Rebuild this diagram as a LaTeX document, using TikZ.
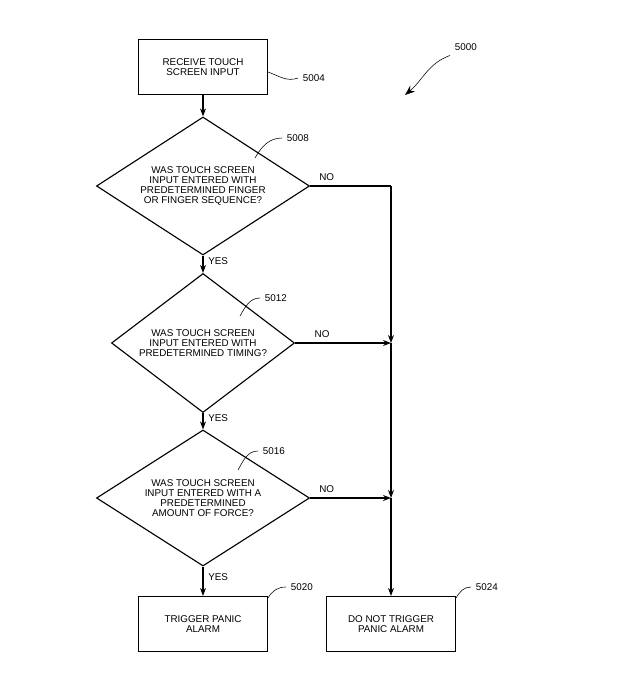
\documentclass[tikz,border=0pt]{standalone}
\usepackage{fontspec}
\setmainfont{Liberation Sans}
\usetikzlibrary{arrows.meta, shapes.geometric}

\begin{document}
\begin{tikzpicture}[x=0.025cm, y=-0.025cm,
    every node/.style={font=\fontsize{7}{7}\selectfont, align=center},
    action/.style={draw, thick, minimum width=3.225cm, minimum height=1.375cm, inner sep=1pt},
    test/.style={draw, thick, diamond, aspect=1.55, inner sep=0pt},
    flow/.style={thick, -{Stealth[length=2mm]}},
    tag/.style={anchor=west, font=\fontsize{7}{7}\selectfont},
    squig/.style={thin, out=-20, in=200}]

    \useasboundingbox (0,0) rectangle (636,677);

    \node[action] (input) at (203,67) {RECEIVE TOUCH\\SCREEN INPUT};
    \node[test, minimum width=5.325cm, minimum height=3.45cm] (finger) at (203,186) {WAS TOUCH SCREEN\\INPUT ENTERED WITH\\PREDETERMINED FINGER\\OR FINGER SEQUENCE?};
    \node[test, aspect=1.32, minimum width=4.575cm, minimum height=3.475cm] (timing) at (203,343) {WAS TOUCH SCREEN\\INPUT ENTERED WITH\\PREDETERMINED TIMING?};
    \node[test, minimum width=5.325cm, minimum height=3.4cm] (force) at (203,498) {WAS TOUCH SCREEN\\INPUT ENTERED WITH A\\PREDETERMINED\\AMOUNT OF FORCE?};
    \node[action] (alarm) at (203,624) {TRIGGER PANIC\\ALARM};
    \node[action] (noalarm) at (391,624) {DO NOT TRIGGER\\PANIC ALARM};

    \coordinate (j1) at (391,186);
    \coordinate (j2) at (391,343);
    \coordinate (j3) at (391,498);

    % main flow
    \draw[flow] (input) -- (finger);
    \draw[flow] (finger) -- node[right, pos=0.3] {YES} (timing);
    \draw[flow] (timing) -- node[right, pos=0.3] {YES} (force);
    \draw[flow] (force) -- node[right, pos=0.35] {YES} (alarm);

    % no branches
    \draw[thick] (finger.east) -- node[above right, pos=0.05] {NO} (j1);
    \draw[flow] (j1) -- (j2);
    \draw[flow] (timing.east) -- node[above right, pos=0.15] {NO} (j2);
    \draw[flow] (j2) -- (j3);
    \draw[flow] (force.east) -- node[above right, pos=0.05] {NO} (j3);
    \draw[flow] (j3) -- (noalarm);

    % reference numerals
    \node[tag] (n5004) at (298,78) {5004};
    \draw (268,72) to[squig] (n5004.west);
    \node[tag] (n5008) at (282,138) {5008};
    \draw (255,158) to[out=60, in=180] (n5008.west);
    \node[tag] (n5012) at (260,298) {5012};
    \draw (240,316) to[out=60, in=180] (n5012.west);
    \node[tag] (n5016) at (258,451) {5016};
    \draw (238,470) to[out=60, in=180] (n5016.west);
    \node[tag] (n5020) at (286,587) {5020};
    \draw (268,598) to[out=60, in=180] (n5020.west);
    \node[tag] (n5024) at (471,587) {5024};
    \draw (456,598) to[out=60, in=180] (n5024.west);
    \node[tag] (n5000) at (450,47) {5000};
    \draw[-{Stealth[length=2.5mm]}] (n5000.south west) to[out=200, in=40] (405,95);
\end{tikzpicture}
\end{document}
